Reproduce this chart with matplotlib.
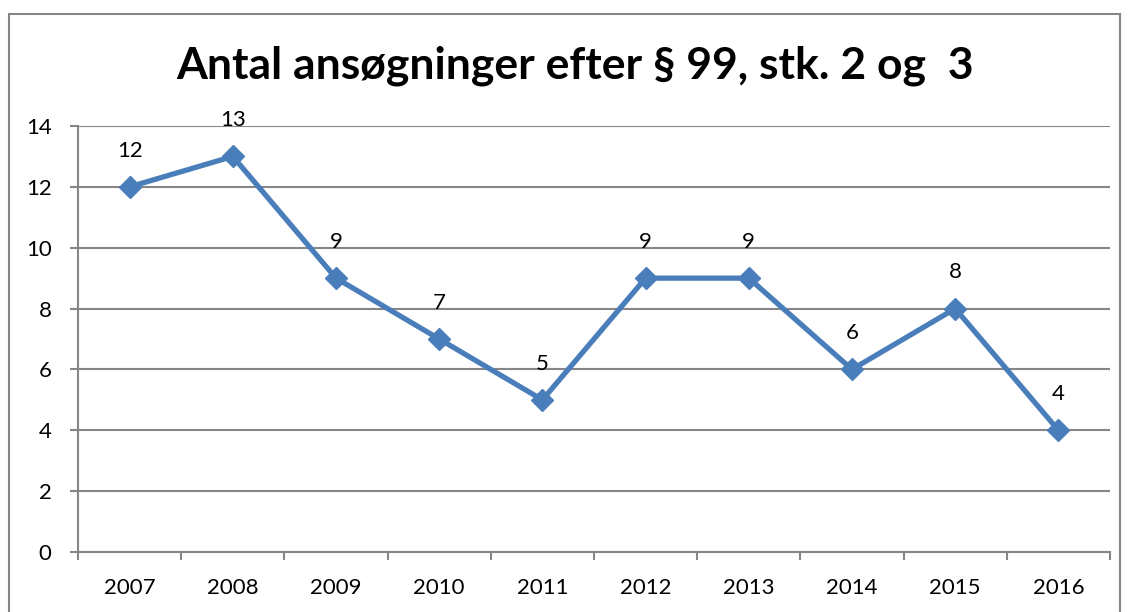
import matplotlib
matplotlib.use('Agg')
import matplotlib.pyplot as plt
from matplotlib.patches import Rectangle

years = ['2007', '2008', '2009', '2010', '2011', '2012', '2013', '2014', '2015', '2016']
counts = [12, 13, 9, 7, 5, 9, 9, 6, 8, 4]
title = 'Antal ansøgninger efter § 99, stk. 2 og  3'

plt.rcParams['font.family'] = ['Lato', 'DejaVu Sans']

grey = '#868686'
blue = '#4A7EBB'

fig = plt.figure(figsize=(11.28, 6.12), dpi=100)
ax = fig.add_axes([78/1128, 1 - 552/612, (1110 - 78)/1128, (552 - 126)/612])

x = list(range(len(years)))
ax.plot(x, counts, color=blue, lw=3.8, marker='D', ms=11.5, zorder=3, clip_on=False)
for xi, v in zip(x, counts):
  ax.annotate(str(v), (xi, v), xytext=(0, 26), textcoords='offset points',
              ha='center', va='center', fontsize=16)

ax.set_xlim(-0.5, len(years) - 0.5)
ax.set_ylim(0, 14)
ax.set_yticks(range(0, 15, 2))
ax.set_xticks(x)
ax.set_xticklabels(years)
ax.set_xticks([i - 0.5 for i in range(len(years) + 1)], minor=True)
ax.tick_params(axis='x', which='major', length=0, pad=19, labelsize=16)
ax.tick_params(axis='x', which='minor', length=6, width=1.5, color=grey)
ax.tick_params(axis='y', length=6, width=1.5, color=grey, labelsize=16, pad=13)
ax.grid(axis='y', color=grey, lw=1.5)
ax.set_axisbelow(True)
for s in ['top', 'right']:
  ax.spines[s].set_visible(False)
for s in ['left', 'bottom']:
  ax.spines[s].set_color(grey)
  ax.spines[s].set_linewidth(1.5)

fig.text(575/1128, 1 - 66/612, title, ha='center', va='center',
         fontsize=32, fontweight='bold')

fig.patches.append(Rectangle((9/1128, -0.1), (1120 - 9)/1128, 1.1 - 14/612,
                             transform=fig.transFigure, fill=False,
                             edgecolor=grey, lw=1.5))

fig.savefig('out.png', dpi=100)
